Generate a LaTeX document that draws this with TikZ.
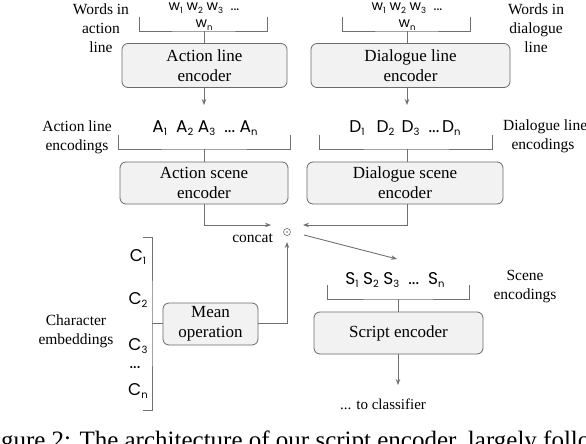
\documentclass[tikz,border=0pt]{standalone}
\usepackage{fontspec}
\setmainfont{Liberation Serif}
\newfontfamily\symfont{Poppins}
\usetikzlibrary{arrows.meta}
\definecolor{linegray}{HTML}{707070}
\definecolor{boxfill}{HTML}{F2F2F2}
\definecolor{boxline}{HTML}{6A6A6A}
\newcommand{\lsub}[1]{\raisebox{-3.5pt}{\fontsize{10}{10}\selectfont #1}}
\newcommand{\wsub}[1]{\raisebox{-2.5pt}{\fontsize{8.5}{8.5}\selectfont #1}}
\tikzset{
  encbox/.style={draw=boxline, fill=boxfill, rounded corners=6pt, line width=0.8pt,
    align=center, inner sep=0pt, font=\fontsize{17}{20}\selectfont},
  lbl/.style={align=center, inner sep=0pt, font=\fontsize{15.5}{19}\selectfont},
  syms/.style={inner sep=0pt, font=\symfont\fontsize{17}{19}\selectfont},
  wsyms/.style={inner sep=0pt, font=\symfont\fontsize{14}{16}\selectfont},
  ln/.style={draw=linegray, line width=0.9pt},
  arr/.style={ln, -{Stealth[length=6pt,width=4.5pt]}},
}
\begin{document}
\begin{tikzpicture}[x=1pt,y=-1pt]
\useasboundingbox (0,0) rectangle (586,444);
\begin{scope}
\clip (0,0) rectangle (586,444);

% ---------- top row ----------
\node[wsyms] (wa) at (204,8) {w\wsub{1}\ w\wsub{2}\ w\wsub{3}\ \ ...};
\node[wsyms] (wan) at (204,25) {w\wsub{n}};
\node[wsyms] (wd) at (407,8) {w\wsub{1}\ w\wsub{2}\ w\wsub{3}\ \ ...};
\node[wsyms] (wdn) at (407,25) {w\wsub{n}};

\node[lbl] (wordsA) at (101,28) {Words in\\action\\line};
\node[lbl] (wordsD) at (536,28) {Words in\\dialogue\\line};

\coordinate (bA1) at (139,17); \coordinate (bA2) at (267,17); \coordinate (bAm) at (204,31);
\draw[ln] (bA1) |- (bAm) -| (bA2);
\coordinate (bD1) at (342,17); \coordinate (bD2) at (470,17); \coordinate (bDm) at (407,31);
\draw[ln] (bD1) |- (bDm) -| (bD2);

\node[encbox, minimum width=165pt, minimum height=44pt] (ale) at (204.5,65.5) {Action line\\encoder};
\node[encbox, minimum width=199pt, minimum height=44pt] (dle) at (410.5,65.5) {Dialogue line\\encoder};

\draw[ln] (bAm) -- (ale.north -| bAm);
\draw[ln] (bDm) -- (dle.north -| bDm);

\coordinate (aArr) at (204,105);
\coordinate (dArr) at (407,105);
\draw[arr] (ale.south -| aArr) -- (aArr);
\draw[arr] (dle.south -| dArr) -- (dArr);

% ---------- second row ----------
\node[syms] (arow) at (205,128) {A\lsub{1}\ \ A\lsub{2}\ A\lsub{3}\ \ ...\ A\lsub{n}};
\node[syms] (drow) at (405,128) {D\lsub{1}\ \ \,D\lsub{2}\ \,D\lsub{3}\ \ ...\,D\lsub{n}};
\node[lbl] (encA) at (77,137) {Action line\\encodings};
\node[lbl, anchor=west] (encD) at (503,127) {Dialogue line};
\node[lbl] (encD2) at (543,146) {encodings};

\coordinate (cA1) at (118,135); \coordinate (cA2) at (290,135); \coordinate (cAm) at (204,149);
\draw[ln] (cA1) |- (cAm) -| (cA2);
\coordinate (cD1) at (319,135); \coordinate (cD2) at (492,135); \coordinate (cDm) at (407,149);
\draw[ln] (cD1) |- (cDm) -| (cD2);

\node[encbox, minimum width=168pt, minimum height=42pt] (ase) at (204,183) {Action scene\\encoder};
\node[encbox, minimum width=196pt, minimum height=42pt] (dse) at (405,183) {Dialogue scene\\encoder};

\draw[ln] (cAm) -- (ase.north -| cAm);
\draw[ln] (cDm) -- (dse.north -| cDm);

% ---------- concat ----------
\node[circle, draw=linegray, line width=0.6pt, inner sep=0pt, minimum size=7pt] (odot) at (287,232) {};
\fill[linegray] (odot.center) circle (0.9pt);
\node[lbl, anchor=east] (concat) at (273,238) {concat};

\coordinate (aIn) at (271,225);
\coordinate (dIn) at (303,225);
\draw[arr] (ase.south -| cAm) |- (aIn);
\draw[arr] (dse.south -| cDm) |- (dIn);

\coordinate (dg1) at (304,235);
\coordinate (dg2) at (397,259);
\draw[arr] (dg1) -- (dg2);

% ---------- scene ----------
\node[syms] (srow) at (395,280) {S\lsub{1} S\lsub{2} S\lsub{3}\ \ ...\ \ S\lsub{n}};
\node[lbl] (encS) at (525,287) {Scene\\encodings};
\coordinate (sB1) at (327,285); \coordinate (sB2) at (469,285); \coordinate (sBm) at (398,299);
\draw[ln] (sB1) |- (sBm) -| (sB2);
\node[encbox, minimum width=169pt, minimum height=42pt] (se) at (398.5,333) {Script encoder};
\draw[ln] (sBm) -- (se.north -| sBm);
\coordinate (out) at (398,385);
\draw[arr] (se.south -| out) -- (out);
\node[lbl, font=\fontsize{15}{18}\selectfont] (cls) at (383,404) {... to classifier};

% ---------- characters ----------
\node[syms] (c1) at (138,257) {C\lsub{1}};
\node[syms] (c2) at (138,300) {C\lsub{2}};
\node[syms] (c3) at (138,346) {C\lsub{3}};
\node[syms] (cdots) at (135,368) {...};
\node[syms] (cn) at (138,391) {C\lsub{n}};
\node[lbl] (cemb) at (76,331) {Character\\embeddings};
\coordinate (k1) at (143,237); \coordinate (k2) at (143,410); \coordinate (km) at (152,323);
\draw[ln] (k1) -| (km) |- (k2);

\node[encbox, minimum width=95pt, minimum height=42pt] (mo) at (210.5,324) {Mean\\operation};
\draw[ln] (km) -- (mo.west |- km);
\coordinate (mUp) at (287,242);
\draw[arr] (mo.east |- km) -| (mUp);

% ---------- caption (cut off by the frame, as in the reference) ----------
\node[anchor=base west, inner sep=0pt, font=\fontsize{25}{28}\selectfont] (cap) at (-20,448)
  {Figure 2: The architecture of our script encoder, largely following};
\end{scope}
\end{tikzpicture}
\end{document}
